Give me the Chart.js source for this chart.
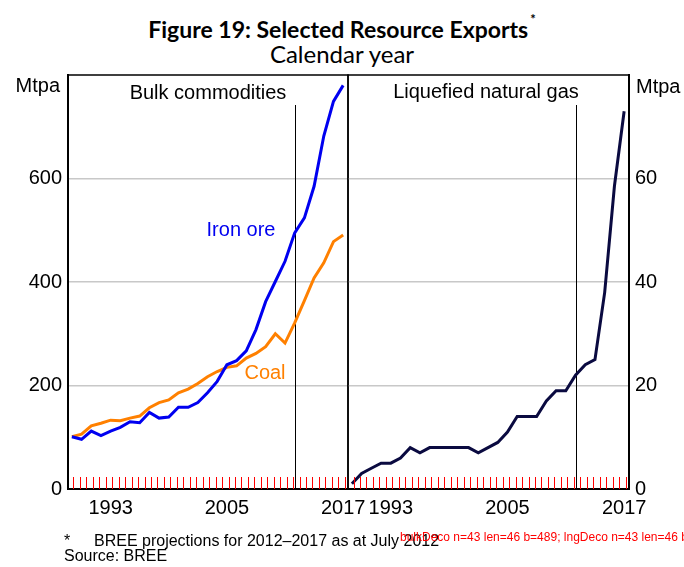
<!DOCTYPE html>
<html>
<head>
<meta charset="utf-8">
<title>Figure 19: Selected Resource Exports</title>
<script src="https://cdn.jsdelivr.net/npm/chart.js@4.4.0/dist/chart.umd.min.js"></script>
<style>
  html, body { margin: 0; padding: 0; background: #fff; }
  #wrap { position: relative; width: 684px; height: 567px; overflow: hidden; }
  #wrap canvas { position: absolute; left: 0; top: 0; }
  .txt { position: absolute; white-space: nowrap; color: #000; }
  #title { left: 0; width: 684px; top: 11px; text-align: center; font: bold 23px Lato, sans-serif; line-height: 26px; }
  #title sup { font-size: 13px; position: relative; top: -5px; margin-left: 2px; }
  #subtitle { left: 0; width: 684px; top: 41px; text-align: center; font: 24px Lato, sans-serif; line-height: 26px; }
  .note { font: 16px "Liberation Sans", Arial, sans-serif; line-height: 16px; }
</style>
</head>
<body>
<div id="wrap">
  <div class="txt" id="title">Figure 19: Selected Resource Exports<sup>*</sup></div>
  <div class="txt" id="subtitle">Calendar year</div>
  <canvas id="bulkChart" width="684" height="567"></canvas>
  <canvas id="lngChart" width="684" height="567"></canvas>
  <div class="txt note" style="left:64px; top:533px;">*</div>
  <div class="txt note" style="left:94px; top:533px;">BREE projections for 2012–2017 as at July 2012</div>
  <div class="txt note" style="left:64px; top:548px;">Source: BREE</div>
  <div class="txt" id="dbg" style="left:400px; top:530px; font:12px sans-serif; color:red"></div>
</div>
<script>
// Data (Mtpa, calendar years)
const years = [1989, 1990, 1991, 1992, 1993, 1994, 1995, 1996, 1997, 1998,
               1999, 2000, 2001, 2002, 2003, 2004, 2005, 2006, 2007, 2008,
               2009, 2010, 2011, 2012, 2013, 2014, 2015, 2016, 2017];
const ironOre = [101, 96, 112, 103, 112, 119, 130, 128, 148, 137,
                 139, 158, 158, 167, 186, 208, 240, 248, 267, 308,
                 362, 401, 440, 495, 524, 585, 682, 749, 780];
const coal = [101, 106, 122, 127, 133, 132, 137, 141, 157, 167,
              172, 186, 193, 204, 217, 227, 235, 238, 253, 262,
              275, 300, 282, 321, 364, 408, 437, 478, 491];
const lng = [1, 3, 4, 5, 5, 6, 8, 7, 8, 8,
             8, 8, 8, 7, 8, 9, 11, 14, 14, 14,
             17, 19, 19, 22, 24, 25, 38, 58.5, 73];

const xLabelYears = [1993, 2005, 2017];
const bulkTicks = [0, 200, 400, 600, 800];
const lngTicks = [0, 20, 40, 60, 80];
const projectionStart = 2012;

const xMin = 1988.6, xMax = 2017.5;

Chart.defaults.font.family = '"Liberation Sans", Arial, sans-serif';
Chart.defaults.font.size = 20;
Chart.defaults.color = '#000';

function points(vals) {
  return years.map((yr, i) => ({ x: yr, y: vals[i] }));
}

function xAxis() {
  return {
    type: 'linear',
    min: xMin,
    max: xMax,
    afterBuildTicks: s => {
      const t = [];
      for (let v = 1988.5 + 2 / 3; v < xMax; v += 2 / 3) t.push({ value: v });
      xLabelYears.forEach(yr => t.push({ value: yr }));
      t.sort((a, b) => a.value - b.value);
      s.ticks = t;
    },
    afterFit: s => { s.height = 40; },
    ticks: {
      autoSkip: false,
      maxRotation: 0,
      padding: 7,
      callback: v => xLabelYears.includes(v) ? String(v) : ''
    },
    grid: { drawOnChartArea: false, drawTicks: false },
    border: { display: true, color: '#000', width: 2 }
  };
}

function yAxis(pos, tickVals, width) {
  const top = tickVals[tickVals.length - 1];
  return {
    position: pos,
    min: 0,
    max: top,
    afterBuildTicks: s => { s.ticks = tickVals.map(v => ({ value: v })); },
    afterFit: s => { s.width = width; },
    ticks: {
      padding: 6,
      callback: v => v === top ? '' : String(v)
    },
    grid: {
      drawTicks: false,
      lineWidth: 1.5,
      color: c => (c.tick && (c.tick.value === 0 || c.tick.value === top)) ? 'rgba(0,0,0,0)' : '#c8c8c8'
    },
    border: { display: true, color: '#000', width: 2 }
  };
}

function panelDeco(id, texts) {
  return {
    id: id,
    beforeDatasetsDraw(chart) {
      const a = chart.chartArea;
      const ctx = chart.ctx;
      const x = Math.round(chart.scales.x.getPixelForValue(projectionStart)) + 0.5;
      ctx.save();
      ctx.strokeStyle = '#000';
      ctx.lineWidth = 1;
      ctx.beginPath();
      ctx.moveTo(x, a.top + 30);
      ctx.lineTo(x, a.bottom);
      ctx.stroke();
      ctx.restore();
    },
    afterDraw(chart) {
      const a = chart.chartArea;
      const ctx = chart.ctx;
      const xs = chart.scales.x;
      ctx.save();
      ctx.lineWidth = 1.5;
      ctx.strokeStyle = '#000';
      ctx.strokeRect(a.left, a.top, a.right - a.left, a.bottom - a.top);
      ctx.lineWidth = 1;
      ctx.strokeStyle = 'red';
      ctx.beginPath();
      let n = 0;
      xs.ticks.forEach(t => {
        if (xLabelYears.includes(t.value)) return;
        const tx = Math.round(xs.getPixelForValue(t.value)) + 0.5;
        n++;
        ctx.moveTo(tx, a.bottom);
        ctx.lineTo(tx, a.bottom - 12);
      });
      ctx.stroke();
      document.getElementById('dbg').textContent += id + ' n=' + n + ' len=' + xs.ticks.length + ' b=' + a.bottom + '; ';
      ctx.font = '20px "Liberation Sans", Arial, sans-serif';
      ctx.textBaseline = 'middle';
      texts.forEach(t => {
        ctx.fillStyle = t.color || '#000';
        ctx.textAlign = t.align || 'center';
        ctx.fillText(t.text, t.x, t.y);
      });
      ctx.restore();
    }
  };
}

new Chart(document.getElementById('bulkChart'), {
  type: 'line',
  data: {
    datasets: [
      { label: 'Iron ore', data: points(ironOre), borderColor: '#0000f0', borderWidth: 3, pointRadius: 0, tension: 0 },
      { label: 'Coal', data: points(coal), borderColor: '#ff8000', borderWidth: 3, pointRadius: 0, tension: 0 }
    ]
  },
  options: {
    responsive: false,
    animation: false,
    events: [],
    layout: { padding: { left: 0, right: 336, top: 75, bottom: 38 } },
    scales: { x: xAxis(), y: yAxis('left', bulkTicks, 68) },
    plugins: { legend: { display: false }, tooltip: { enabled: false } }
  },
  plugins: [panelDeco('bulkDeco', [
    { text: 'Bulk commodities', x: 208, y: 93 },
    { text: 'Iron ore', x: 241, y: 230, color: '#0000f0' },
    { text: 'Coal', x: 265, y: 373, color: '#ff8000' },
    { text: 'Mtpa', x: 60, y: 86, align: 'right' }
  ])]
});

new Chart(document.getElementById('lngChart'), {
  type: 'line',
  data: {
    datasets: [
      { label: 'Liquefied natural gas', data: points(lng), borderColor: '#0a0a40', borderWidth: 3, pointRadius: 0, tension: 0 }
    ]
  },
  options: {
    responsive: false,
    animation: false,
    events: [],
    layout: { padding: { left: 348, right: 0, top: 75, bottom: 38 } },
    scales: { x: xAxis(), y: yAxis('right', lngTicks, 55) },
    plugins: { legend: { display: false }, tooltip: { enabled: false } }
  },
  plugins: [panelDeco('lngDeco', [
    { text: 'Liquefied natural gas', x: 486, y: 92 },
    { text: 'Mtpa', x: 636, y: 87, align: 'left' }
  ])]
});
</script>
</body>
</html>
